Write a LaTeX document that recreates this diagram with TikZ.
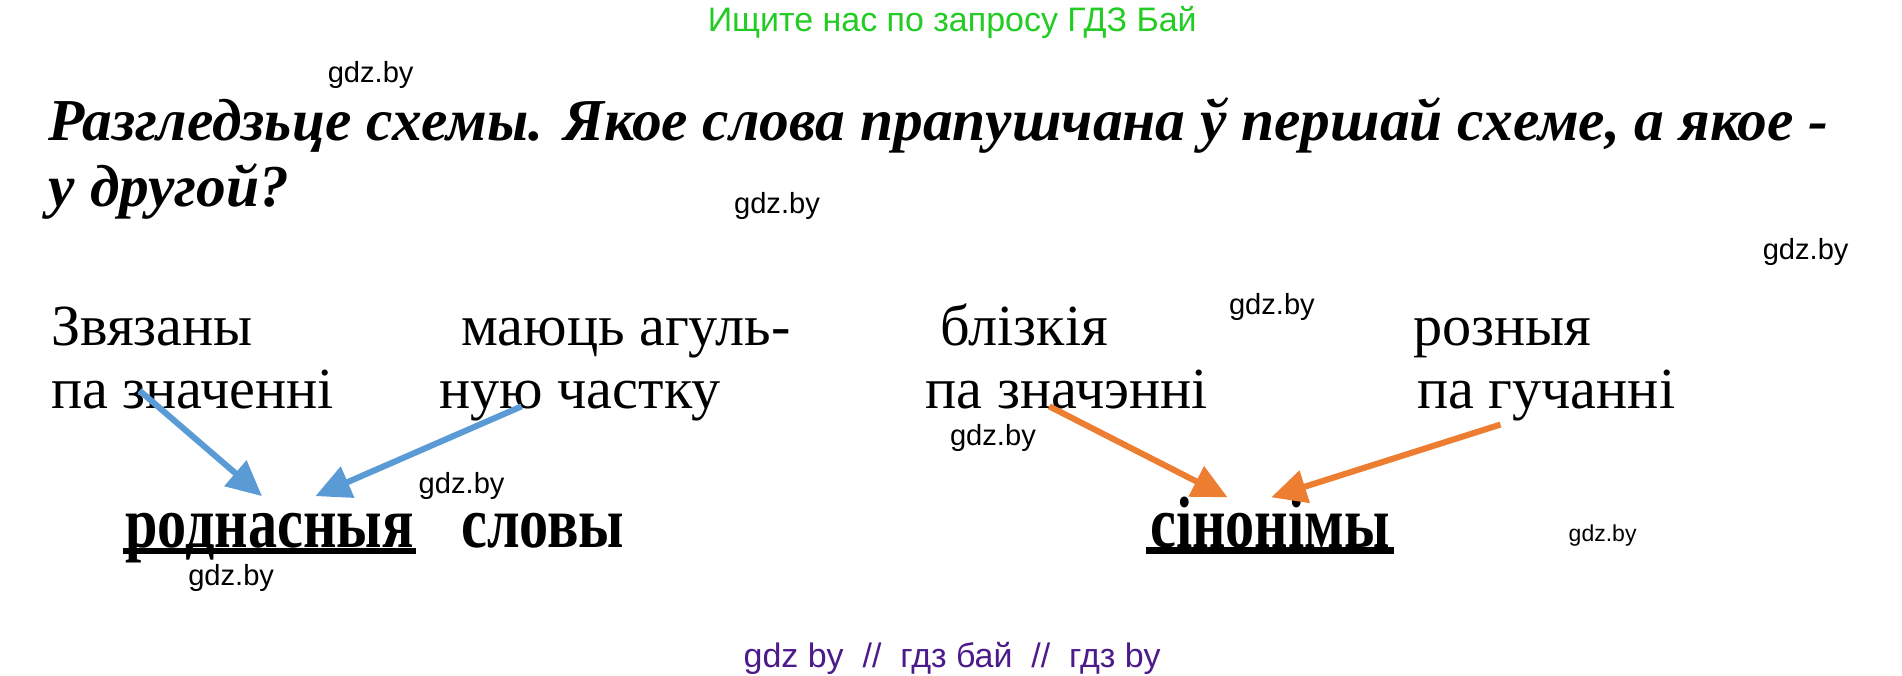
\documentclass[tikz,border=0pt]{standalone}
\usepackage{fontspec}
\setmainfont{Liberation Serif}
\newfontfamily\wmfont{Liberation Sans}
\newfontfamily\termfont[FakeStretch=0.8]{Liberation Serif}
\usetikzlibrary{arrows.meta, positioning}
\definecolor{hdrgreen}{RGB}{34,204,34}
\definecolor{ftpurple}{RGB}{76,26,138}
\definecolor{arrblue}{RGB}{91,155,213}
\definecolor{arrorange}{RGB}{237,125,49}
\tikzset{
  wm/.style={anchor=base west, inner sep=0pt, font=\wmfont\fontsize{24}{24}\selectfont},
  word/.style={anchor=base west, inner sep=0pt, font=\fontsize{48}{48}\selectfont},
  term/.style={anchor=base west, inner sep=0pt, font=\termfont\bfseries\fontsize{60}{60}\selectfont},
  task/.style={anchor=base west, inner sep=0pt, font=\bfseries\itshape\fontsize{49}{49}\selectfont},
  uline/.style={line width=5pt},
  link/.style={line width=5pt, -{Triangle[length=29pt,width=27pt]}}
}
\begin{document}
\begin{tikzpicture}[x=1pt, y=-1pt]
\useasboundingbox (0,0) rectangle (1568,557);
\node[anchor=base, inner sep=0pt, text=hdrgreen, font=\wmfont\fontsize{28}{28}\selectfont] (hdr) at (785,26) {Ищите нас по запросу ГДЗ Бай};
\node[task] (t1) at (40,116) {Разгледзьце схемы. Якое слова прапушчана ў першай схеме, а якое -};
\node[task] (t2) at (40,170) {у другой?};
% watermarks
\node[wm] (w1) at (270,68) {gdz.by};
\node[wm] (w2) at (605,176) {gdz.by};
\node[wm] (w3) at (1453,214) {gdz.by};
\node[wm] (w4) at (1013,259) {gdz.by};
\node[wm] (w5) at (783,367) {gdz.by};
\node[wm] (w6) at (345,407) {gdz.by};
\node[wm] (w7) at (155,483) {gdz.by};
\node[wm, font=\wmfont\fontsize{19}{19}\selectfont] (w8) at (1293,446) {gdz.by};
% first scheme
\node[word] (s1a) at (42,285) {Звязаны};
\node[word] (s1b) at (42,337) {па значенні};
\node[word] (s2a) at (380,285) {маюць агуль-};
\node[word] (s2b) at (362,337) {ную частку};
\node[term] (rod) at (103,451) {роднасныя};
\node[term] (slo) at (380,451) {словы};
\draw[uline] ([xshift=-2pt, yshift=-3pt]rod.base west) -- ([xshift=2pt, yshift=-3pt]rod.base east);
% second scheme
\node[word] (s3a) at (775,285) {блізкія};
\node[word] (s3b) at (763,337) {па значэнні};
\node[word] (s4a) at (1165,285) {розныя};
\node[word] (s4b) at (1168,337) {па гучанні};
\node[term] (sin) at (948,451) {сінонімы};
\draw[uline, line width=6pt] ([xshift=-3pt, yshift=-3pt]sin.base west) -- ([xshift=3pt, yshift=-3pt]sin.base east);
% arrows
\coordinate (p1) at (115,322);
\coordinate (p2) at (430,335);
\coordinate (p3) at (865,335);
\coordinate (p4) at (1237,350);
\coordinate (q1) at (216,409);
\coordinate (q2) at (260,409);
\coordinate (q3) at (1012,410);
\coordinate (q4) at (1048,410);
\draw[link, arrblue] (p1) -- (q1);
\draw[link, arrblue] (p2) -- (q2);
\draw[link, arrorange] (p3) -- (q3);
\draw[link, arrorange] (p4) -- (q4);
\node[anchor=base, inner sep=0pt, text=ftpurple, font=\wmfont\fontsize{28}{28}\selectfont] (ftr) at (785,550) {gdz by \ // \ гдз бай \ // \ гдз by};
\end{tikzpicture}
\end{document}
